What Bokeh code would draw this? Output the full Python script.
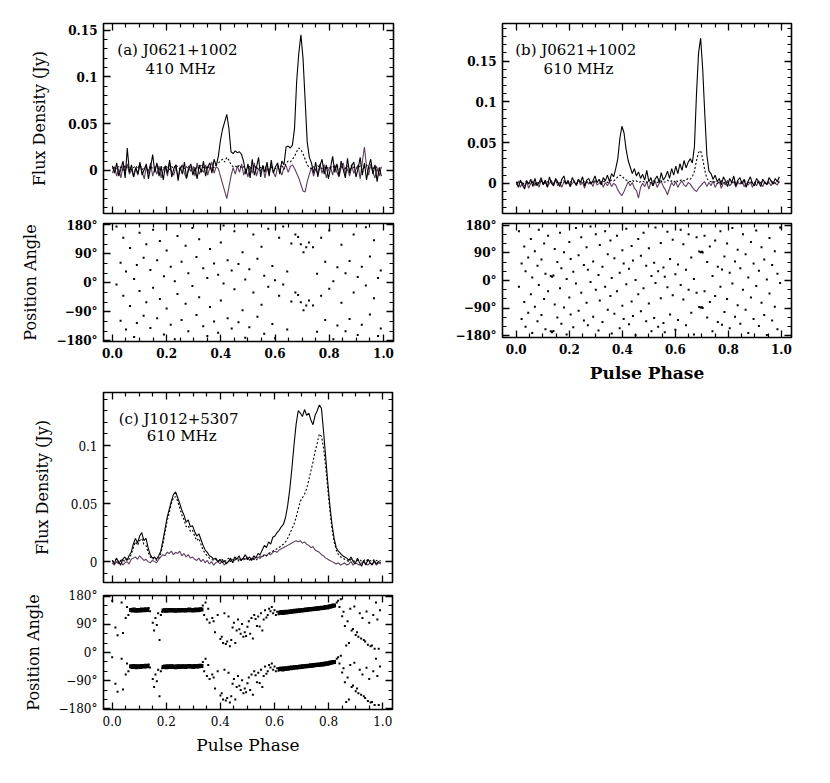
from bokeh.plotting import figure
from bokeh.models import LinearAxis, FixedTicker, Label, Range1d
from bokeh.layouts import column, row
from bokeh.embed import file_html
from bokeh.resources import INLINE

SERIF = "DejaVu Serif"
PURPLE = "#5e3f60"

# ---------------- data (flux in mJy) ----------------
# (a) J0621+1002, 410 MHz
i_a = [5, -3, 8, -6, 2, 10, -8, 24, -2, 6, -7, 3, -4, 9, -5, 1, 7, -9, 3, 17,
       -2, 8, -6, 4, -10, 5, -3, 11, -7, 2, 6, -11, 4, -4, 9, -8, 1, 7, -5, 3,
       -9, 6, -2, 10, -6, 4, 8, -3, 12, 5, 15, 32, 44, 52, 60, 45, 20, 18, 21, 19,
       20, 17, 9, -4, 7, -8, 12, -5, 3, 14, -7, 5, -2, 9, -6, 11, -3, 4, 8, -4,
       10, 6, 25, 26, 24, 27, 45, 95, 125, 145, 120, 75, 30, 14, 8, -3, 9, -7, 5, 12,
       -4, 6, -9, 3, 15, -2, 7, -6, 10, 1, -8, 13, -3, 5, 9, -7, 2, 14, -5, 8,
       -10, 4, 12, -4, 6, -12, 3, -6]
l_a = [2, 4, 1, 5, 3, 0, 6, 2, 4, 1, 3, 5, 2, 6, 1, 3, 4, 0, 5, 2,
       3, 6, 1, 4, 2, 5, 3, 1, 4, 2, 6, 3, 1, 5, 2, 4, 0, 3, 5, 1,
       4, 2, 6, 3, 2, 5, 1, 4, 3, 6, 8, 10, 12, 9, 14, 11, 6, 4, 5, 3,
       6, 2, 4, 1, 3, 5, 2, 6, 1, 4, 3, 5, 2, 6, 1, 3, 4, 2, 5, 3,
       6, 1, 8, 10, 9, 12, 15, 20, 24, 22, 18, 12, 6, 3, 2, 4, 1, 5, 3, 2,
       6, 1, 4, 3, 5, 2, 6, 1, 4, 3, 2, 5, 1, 6, 3, 4, 2, 5, 1, 3,
       6, 2, 4, 1, 5, 3, 2, 4]
v_a = [-3, 4, -6, 2, -8, 5, -2, 7, -4, 1, -7, 3, -5, 6, -1, -9, 4, -3, 8, -6,
       2, -4, 5, -8, 1, 3, -6, 9, -2, -5, 4, -7, 2, 6, -3, -9, 5, -1, 3, -6,
       8, -4, 1, -2, 6, -5, 3, 9, -3, 4, 2, -6, -14, -22, -30, -18, -6, 3, -4, 5,
       -2, 7, -5, 1, -7, 4, -3, 8, -6, 2, -1, 5, -8, 3, -4, 6, -2, -7, 4, 1,
       -5, 3, 5, -2, 4, 6, 2, -3, -8, -15, -22, -23, -12, -4, 3, -6, 2, -4, 7, -3,
       5, -8, 1, 4, -5, 6, -2, -7, 3, 8, -4, 2, -6, 5, -3, 1, 6, -9, 9, 25,
       4, -5, 7, -2, -8, 3, -6, 4]

# (b) J0621+1002, 610 MHz
i_b = [2, -5, 4, -2, -7, 3, -1, 5, -4, 6, -3, 1, 7, -2, 4, -5, 8, 0, -3, 6,
       2, -4, 5, 9, -1, 3, -4, 7, 2, -2, 5, 1, 8, -3, 4, 6, -1, 3, 9, 1,
       5, -2, 7, 3, 10, 2, 12, 8, 18, 30, 55, 70, 62, 42, 28, 20, 12, 18, 9, 14,
       6, 11, 4, 16, 2, 7, -3, 5, 9, 1, 13, 4, 8, 15, 6, 18, 10, 21, 12, 24,
       16, 28, 19, 26, 30, 25, 45, 110, 160, 178, 140, 85, 35, 15, 12, 5, 10, 2, 6, -2,
       8, 3, -4, 6, 1, 9, -3, 4, 7, -1, 5, -5, 3, 8, 0, -3, 6, 2, -4, 5,
       1, -2, 7, 3, -1, 6, 2, 8]
l_b = [1, 0, 2, -1, 1, 3, 0, 2, 1, -1, 2, 0, 3, 1, 0, 2, 1, 3, 0, 2,
       1, 0, 2, 3, 1, 0, 2, 1, 3, 0, 1, 2, 0, 3, 1, 2, 0, 1, 3, 2,
       1, 0, 2, 3, 1, 2, 4, 3, 5, 8, 10, 9, 6, 4, 3, 2, 4, 2, 3, 1,
       2, 3, 1, 2, 0, 1, 3, 2, 1, 2, 3, 1, 2, 4, 2, 3, 1, 4, 2, 3,
       5, 3, 4, 6, 5, 8, 15, 28, 38, 40, 30, 16, 6, 3, 2, 1, 2, 0, 1, 3,
       2, 0, 1, 2, 1, 3, 0, 2, 1, 0, 2, 3, 1, 0, 2, 1, 3, 0, 1, 2,
       0, 1, 2, 3, 1, 0, 2, 1]
v_b = [-2, 3, -5, 1, -4, 2, -6, 0, 3, -3, 1, -5, 4, -1, 2, -4, 0, 3, -2, 5,
       -3, 1, -5, 2, -1, 4, -4, 0, 2, -3, 5, -2, 1, -6, 3, -1, 2, -4, 4, -2,
       0, 3, -5, 1, -3, 2, -4, 0, -2, -8, -12, -15, -10, -4, 2, -3, 1, -6, -9, -18,
       -5, 0, -4, 2, -7, 1, -3, 3, -5, 0, 2, -4, -8, -14, -6, 1, -3, 2, -5, 0,
       3, -2, -4, 1, -1, -5, -8, -10, -6, -3, 0, 2, -4, 1, -3, 3, -5, 0, 2, -6,
       1, -2, 4, -3, 0, 2, -5, 1, -1, 3, -4, 0, -2, 2, -5, 1, -3, 3, 0, -4,
       2, -1, 1, -3, 2, 0, -2, 3]

# (c) J1012+5307, 610 MHz
i_c = [1, -2, 3, 0, -3, 2, 4, 1, 5, 8, 15, 20, 16, 22, 25, 18, 20, 12, 6, 3,
       4, 2, 5, 9, 18, 28, 38, 45, 52, 58, 60, 55, 50, 44, 40, 34, 36, 30, 31, 26,
       22, 24, 19, 14, 10, 8, 5, 4, 2, 3, 0, 2, -1, 1, -2, 0, 3, -1, 4, 2,
       5, 1, 3, 6, 2, 4, 1, 5, 3, 7, 6, 10, 14, 12, 17, 15, 21, 22, 25, 27,
       30, 32, 38, 48, 62, 80, 100, 118, 130, 128, 125, 131, 126, 128, 122, 118, 126, 130, 135, 132,
       112, 90, 68, 48, 32, 20, 12, 9, 7, 5, 4, 3, 1, 4, 0, -2, 3, -1, -4, 1,
       -3, 2, -1, -3, 1, -2, 0, -1]
l_c = [1, 0, 2, -1, 1, 2, 0, 3, 2, 6, 12, 17, 14, 18, 20, 15, 14, 8, 4, 2,
       3, 1, 3, 7, 15, 25, 35, 42, 50, 55, 56, 52, 46, 40, 36, 30, 31, 26, 27, 22,
       18, 20, 15, 10, 7, 5, 3, 2, 1, 2, 0, 1, 2, 0, 1, 3, 0, 2, 1, 3,
       0, 2, 1, 3, 2, 1, 3, 2, 1, 3, 3, 4, 6, 5, 7, 8, 9, 10, 11, 12,
       14, 15, 17, 20, 24, 28, 32, 38, 45, 52, 55, 58, 63, 70, 78, 86, 95, 102, 110, 108,
       98, 82, 62, 44, 28, 17, 10, 6, 4, 3, 2, 1, 0, 2, 1, 0, 1, 2, 0, 1,
       2, 0, 1, 0, 2, 1, 0, 1]
v_c = [-1, -3, 0, -2, 1, -3, -1, 0, -2, 2, 3, 4, 2, 5, 3, 1, 2, 0, -1, 1,
       0, -1, 2, 4, 6, 5, 8, 7, 9, 6, 8, 7, 9, 5, 7, 4, 6, 3, 4, 2,
       1, 3, 0, 2, -1, 1, -2, 0, -3, -1, 0, -2, 1, -3, -1, 0, 2, 0, 1, 3,
       2, 1, 3, 2, 4, 1, 3, 2, 4, 3, 5, 4, 6, 5, 7, 6, 8, 9, 8, 10,
       11, 12, 13, 14, 15, 16, 17, 18, 17, 18, 16, 17, 15, 14, 12, 13, 10, 9, 8, 6,
       5, 3, 2, 1, 0, -1, -2, -1, -3, -2, -1, -3, -2, 0, -3, -1, -2, -3, -1, 0,
       -2, -3, -1, -2, 0, -3, -1, -2]

# position angles (deg, within -90..90), each also shown 180 deg away
pa_a_phase = [0.015, 0.03, 0.04, 0.05, 0.065, 0.08, 0.09, 0.10, 0.115, 0.125,
              0.14, 0.15, 0.165, 0.175, 0.19, 0.20, 0.215, 0.23, 0.24, 0.255,
              0.27, 0.28, 0.295, 0.31, 0.32, 0.335, 0.35, 0.36, 0.375, 0.39,
              0.40, 0.41, 0.425, 0.44, 0.45, 0.465, 0.48, 0.49, 0.505, 0.52,
              0.535, 0.55, 0.56, 0.575, 0.59, 0.60, 0.615, 0.63, 0.645, 0.66,
              0.675, 0.685, 0.695, 0.705, 0.715, 0.725, 0.74, 0.755, 0.77, 0.785,
              0.80, 0.815, 0.83, 0.845, 0.86, 0.875, 0.89, 0.905, 0.92, 0.935,
              0.95, 0.965, 0.98, 0.99]
pa_a_val = [-5, 62, -40, 35, -72, 12, 55, -25, 78, -60,
            40, -15, 70, -50, 20, -80, 50, 5, -35, 65,
            -65, 30, -10, 80, -45, 45, 15, -75, 60, 25,
            -55, -2, 70, 38, -20, 58, -85, 10, 42, -30,
            75, -68, 22, -12, 52, 8, -40, -5, 35, -58,
            -30, -38, -60, -85, -70, -55, -70, 28, -40, 65,
            -18, 5, 48, -62, 30, 68, -30, 18, 50, -8,
            82, -48, 15, 38]

pa_b_phase = [0.01, 0.02, 0.03, 0.035, 0.045, 0.055, 0.06, 0.07, 0.08, 0.085,
              0.095, 0.105, 0.11, 0.12, 0.13, 0.135, 0.14, 0.145, 0.155, 0.165,
              0.17, 0.18, 0.19, 0.20, 0.205, 0.215, 0.225, 0.235, 0.245, 0.255,
              0.265, 0.27, 0.28, 0.29, 0.30, 0.31, 0.315, 0.325, 0.335, 0.345,
              0.355, 0.36, 0.37, 0.38, 0.39, 0.40, 0.405, 0.415, 0.425, 0.435,
              0.44, 0.45, 0.46, 0.47, 0.48, 0.49, 0.50, 0.51, 0.52, 0.525,
              0.535, 0.545, 0.555, 0.56, 0.57, 0.58, 0.59, 0.60, 0.61, 0.62,
              0.63, 0.64, 0.65, 0.66, 0.67, 0.68, 0.69, 0.695, 0.70, 0.703,
              0.71, 0.72, 0.73, 0.74, 0.75, 0.76, 0.77, 0.776, 0.785, 0.795,
              0.805, 0.815, 0.825, 0.835, 0.845, 0.855, 0.865, 0.875, 0.885, 0.895,
              0.905, 0.915, 0.925, 0.935, 0.945, 0.955, 0.965, 0.975, 0.985, 0.995]
pa_b_val = [-20, 55, -70, 30, 75, -45, 10, -85, 48, -15,
            68, -60, 22, -35, 15, 12, 16, -78, 60, -25,
            40, -88, 5, -55, 70, 28, -10, 82, -40, 50,
            -72, 35, -5, 62, -30, 18, -65, 45, -20, 85,
            -50, 8, 72, -35, 25, -82, 55, -12, 38, -68,
            65, 2, -45, 80, -25, 48, -75, 15, 58, -8,
            30, -58, 42, 12, -22, 70, -48, 20, 52, -15,
            -62, 35, -30, 75, 5, -40, -86, -88, -87, -89,
            -35, 60, -70, 15, -50, 45, -20, 36, 78, -60,
            25, -10, 62, -80, 40, -30, 85, 10, -55, 55,
            -18, 32, -72, 68, 3, -42, 50, -85, 22, -8]

pa_c_track_phase = [0.070, 0.075, 0.080, 0.085, 0.090, 0.095, 0.100, 0.105, 0.110, 0.115,
                    0.120, 0.125, 0.130,
                    0.190, 0.195, 0.200, 0.205, 0.210, 0.215, 0.220, 0.225, 0.230, 0.235,
                    0.240, 0.245, 0.250, 0.255, 0.260, 0.265, 0.270, 0.275, 0.280, 0.285,
                    0.290, 0.295, 0.300, 0.305, 0.310, 0.315, 0.320, 0.325, 0.330,
                    0.620, 0.625, 0.630, 0.635, 0.640, 0.645, 0.650, 0.655, 0.660, 0.665,
                    0.670, 0.675, 0.680, 0.685, 0.690, 0.695, 0.700, 0.705, 0.710, 0.715,
                    0.720, 0.725, 0.730, 0.735, 0.740, 0.745, 0.750, 0.755, 0.760, 0.765,
                    0.770, 0.775, 0.780, 0.785, 0.790, 0.795, 0.800, 0.805, 0.810, 0.815,
                    0.820]
pa_c_track_val = [-44, -46, -43, -45, -47, -44, -45, -46, -43, -44,
                  -45, -42, -44,
                  -46, -45, -47, -44, -46, -45, -44, -46, -45, -47,
                  -45, -44, -46, -45, -44, -45, -46, -44, -45, -43,
                  -45, -44, -46, -44, -43, -45, -44, -42, -43,
                  -53, -51, -54, -52, -50, -52, -51, -49, -50, -48,
                  -49, -47, -48, -46, -47, -45, -46, -44, -45, -43,
                  -44, -42, -43, -41, -42, -40, -41, -39, -40, -38,
                  -39, -37, -38, -36, -35, -36, -34, -33, -32, -31,
                  -30]
pa_c_scat_phase = [0.000, 0.012, 0.020, 0.035, 0.040, 0.050, 0.055, 0.060, 0.135, 0.140,
                   0.150, 0.155, 0.160, 0.165, 0.170, 0.175, 0.180, 0.185, 0.335, 0.340,
                   0.345, 0.350, 0.355, 0.360, 0.370, 0.375, 0.380, 0.390, 0.400, 0.405,
                   0.410, 0.415, 0.420, 0.425, 0.430, 0.435, 0.440, 0.445, 0.450, 0.455,
                   0.460, 0.465, 0.470, 0.475, 0.480, 0.485, 0.490, 0.495, 0.500, 0.505,
                   0.510, 0.515, 0.520, 0.525, 0.530, 0.535, 0.540, 0.545, 0.550, 0.555,
                   0.560, 0.565, 0.570, 0.575, 0.580, 0.585, 0.590, 0.595, 0.600, 0.605,
                   0.610, 0.615, 0.830, 0.835, 0.840, 0.845, 0.850, 0.855, 0.860, 0.865,
                   0.870, 0.875, 0.880, 0.885, 0.890, 0.895, 0.900, 0.905, 0.910, 0.915,
                   0.920, 0.925, 0.930, 0.935, 0.940, 0.945, 0.950, 0.955, 0.960, 0.965,
                   0.970, 0.975, 0.980, 0.985, 0.990]
pa_c_scat_val = [-15, 80, 55, -20, 62, -70, -35, -60, -38, -48,
                 -85, 70, -70, 88, -55, 40, -60, -50, -30, -60,
                 -20, -75, -40, -85, -70, -80, 65, -60, 43, 50,
                 30, -55, 27, 35, -65, 20, 40, 80, -85, 30,
                 70, -75, 74, 60, -89, 50, 65, 53, 82, -80,
                 60, -70, 45, -60, -73, 85, -65, 83, -55, 70,
                 -75, -45, -68, -60, -40, -48, -35, -55, -45, -60,
                 -50, -58, -20, -15, -35, -10, -64, -50, 85, 22,
                 -80, 30, -40, 70, 75, -33, 56, 65, 50, -55,
                 45, -70, 40, 35, -49, 25, -85, 20, 22, -60,
                 12, -20, -75, 12, -45]

x_major = [0.0, 0.2, 0.4, 0.6, 0.8, 1.0]
x_minor = [0.05, 0.1, 0.15, 0.25, 0.3, 0.35, 0.45, 0.5, 0.55, 0.65, 0.7, 0.75, 0.85, 0.9, 0.95]
x_labels = {0.0: "0.0", 0.2: "0.2", 0.4: "0.4", 0.6: "0.6", 0.8: "0.8", 1.0: "1.0"}
flux_major = [0.0, 0.05, 0.1, 0.15]
flux_minor = [-0.04, -0.03, -0.02, -0.01, 0.01, 0.02, 0.03, 0.04, 0.06, 0.07, 0.08, 0.09,
              0.11, 0.12, 0.13, 0.14, 0.16, 0.17, 0.18, 0.19]
flux_labels = {0.0: "0", 0.05: "0.05", 0.1: "0.1", 0.15: "0.15"}
pa_major = [-180, -90, 0, 90, 180]
pa_minor = [-150, -120, -60, -30, 30, 60, 120, 150]
pa_labels = {180: "180°", 90: "90°", 0: "0°", -90: "−90°", -180: "−180°"}


def style_axis(ax, major, minor, show, overrides=None, bold=True):
    ax.ticker = FixedTicker(ticks=major, minor_ticks=minor)
    ax.axis_line_color = None
    ax.major_tick_in = 7
    ax.major_tick_out = 0
    ax.minor_tick_in = 4
    ax.minor_tick_out = 0
    ax.major_tick_line_color = "black"
    ax.minor_tick_line_color = "black"
    ax.major_tick_line_width = 1.3
    ax.minor_tick_line_width = 1.2
    if show:
        ax.major_label_text_font = SERIF
        ax.major_label_text_font_size = "12px"
        ax.major_label_text_font_style = "bold" if bold else "normal"
        ax.major_label_text_color = "black"
        ax.major_label_standoff = 6
        if overrides:
            ax.major_label_overrides = overrides
    else:
        ax.major_label_text_color = None
        ax.major_label_text_alpha = 0
        ax.major_label_text_font_size = "1px"
        ax.major_label_standoff = 0


def make_fig(width, height, xr, yr, left, right, top, bottom,
             ymajor, yminor, xlabels, ylabels_over, bold=True):
    p = figure(width=width, height=height, x_range=Range1d(*xr), y_range=Range1d(*yr),
               output_backend="svg", toolbar_location=None,
               min_border_left=left, min_border_right=right,
               min_border_top=top, min_border_bottom=bottom)
    p.xgrid.visible = False
    p.ygrid.visible = False
    p.outline_line_color = "black"
    p.outline_line_width = 1.6
    p.background_fill_color = "white"
    p.border_fill_color = "white"
    style_axis(p.below[0], x_major, x_minor, xlabels, x_labels, bold)
    style_axis(p.left[0], ymajor, yminor, True, ylabels_over, bold)
    top_ax = LinearAxis()
    style_axis(top_ax, x_major, x_minor, False)
    p.add_layout(top_ax, "above")
    right_ax = LinearAxis()
    style_axis(right_ax, ymajor, yminor, False)
    p.add_layout(right_ax, "right")
    return p


def flux_panel(width, height, xr, yr, left, right, top, bottom, i_s, l_s, v_s, bold):
    p = make_fig(width, height, xr, yr, left, right, top, bottom,
                 flux_major, flux_minor, False, flux_labels, bold)
    for ser, col, dash in ((v_s, PURPLE, "solid"), (l_s, "black", "2 2"), (i_s, "black", "solid")):
        xs = [k / len(ser) for k in range(len(ser))]
        ys = [s / 1000.0 for s in ser]
        p.line(xs, ys, line_color=col, line_width=1.1, line_dash=dash)
    return p


def flip(vals):
    return [v + 180 if v < 0 else v - 180 for v in vals]


def pa_panel(width, height, xr, yr, left, right, top, bottom, groups, bold):
    p = make_fig(width, height, xr, yr, left, right, top, bottom,
                 pa_major, pa_minor, True, pa_labels, bold)
    for ph, vals, size in groups:
        p.scatter(ph, vals, marker="square", size=size, color="black", line_color=None)
        p.scatter(ph, flip(vals), marker="square", size=size, color="black", line_color=None)
    return p


def ylabel(p, text, standoff):
    ax = p.left[0]
    ax.axis_label = text
    ax.axis_label_text_font = SERIF
    ax.axis_label_text_font_size = "16px"
    ax.axis_label_text_font_style = "normal"
    ax.axis_label_text_color = "black"
    ax.axis_label_standoff = standoff


def xlabel(p, text, bold):
    ax = p.below[0]
    ax.axis_label = text
    ax.axis_label_text_font = SERIF
    ax.axis_label_text_font_size = "17px"
    ax.axis_label_text_font_style = "bold" if bold else "normal"
    ax.axis_label_text_color = "black"
    ax.axis_label_standoff = 6


def note(p, x, y, text):
    p.add_layout(Label(x=x, y=y, text=text, text_font=SERIF, text_font_size="15px",
                       text_baseline="middle", text_align="left", text_color="black"))


XR_A = (-0.033, 1.037)
XR_B = (-0.052, 1.038)
XR_C = (-0.032, 1.036)

fa = flux_panel(408, 218, XR_A, (-0.046, 0.157), 103, 15, 23, 5, i_a, l_a, v_a, True)
ylabel(fa, "Flux Density (Jy)", 16)
note(fa, 0.018, 0.1287, "(a) J0621+1002")
note(fa, 0.122, 0.1085, "410 MHz")
pa_a = pa_panel(408, 167, XR_A, (-182, 184), 103, 15, 5, 44,
                [(pa_a_phase, pa_a_val, 2.0)], True)
ylabel(pa_a, "Position Angle", 13)

fb = flux_panel(403, 218, XR_B, (-0.037, 0.196), 94, 20, 23, 5, i_b, l_b, v_b, True)
note(fb, -0.004, 0.164, "(b) J0621+1002")
note(fb, 0.103, 0.140, "610 MHz")
pb = pa_panel(403, 167, XR_B, (-185, 185), 94, 20, 5, 44,
              [(pa_b_phase, pa_b_val, 2.0)], True)
xlabel(pb, "Pulse Phase", True)

fc = flux_panel(408, 202, XR_C, (-0.018, 0.1457), 103, 16, 7, 5, i_c, l_c, v_c, False)
ylabel(fc, "Flux Density (Jy)", 16)
note(fc, 0.024, 0.123, "(c) J1012+5307")
note(fc, 0.128, 0.1078, "610 MHz")
pc = pa_panel(408, 182, XR_C, (-182, 182), 103, 16, 8, 60,
              [(pa_c_track_phase, pa_c_track_val, 4.0), (pa_c_scat_phase, pa_c_scat_val, 2.0)], False)
ylabel(pc, "Position Angle", 13)
xlabel(pc, "Pulse Phase", False)

layout = column(row(column(fa, pa_a), column(fb, pb)), row(column(fc, pc)))

with open("out.html", "w") as f:
    f.write(file_html(layout, INLINE))
